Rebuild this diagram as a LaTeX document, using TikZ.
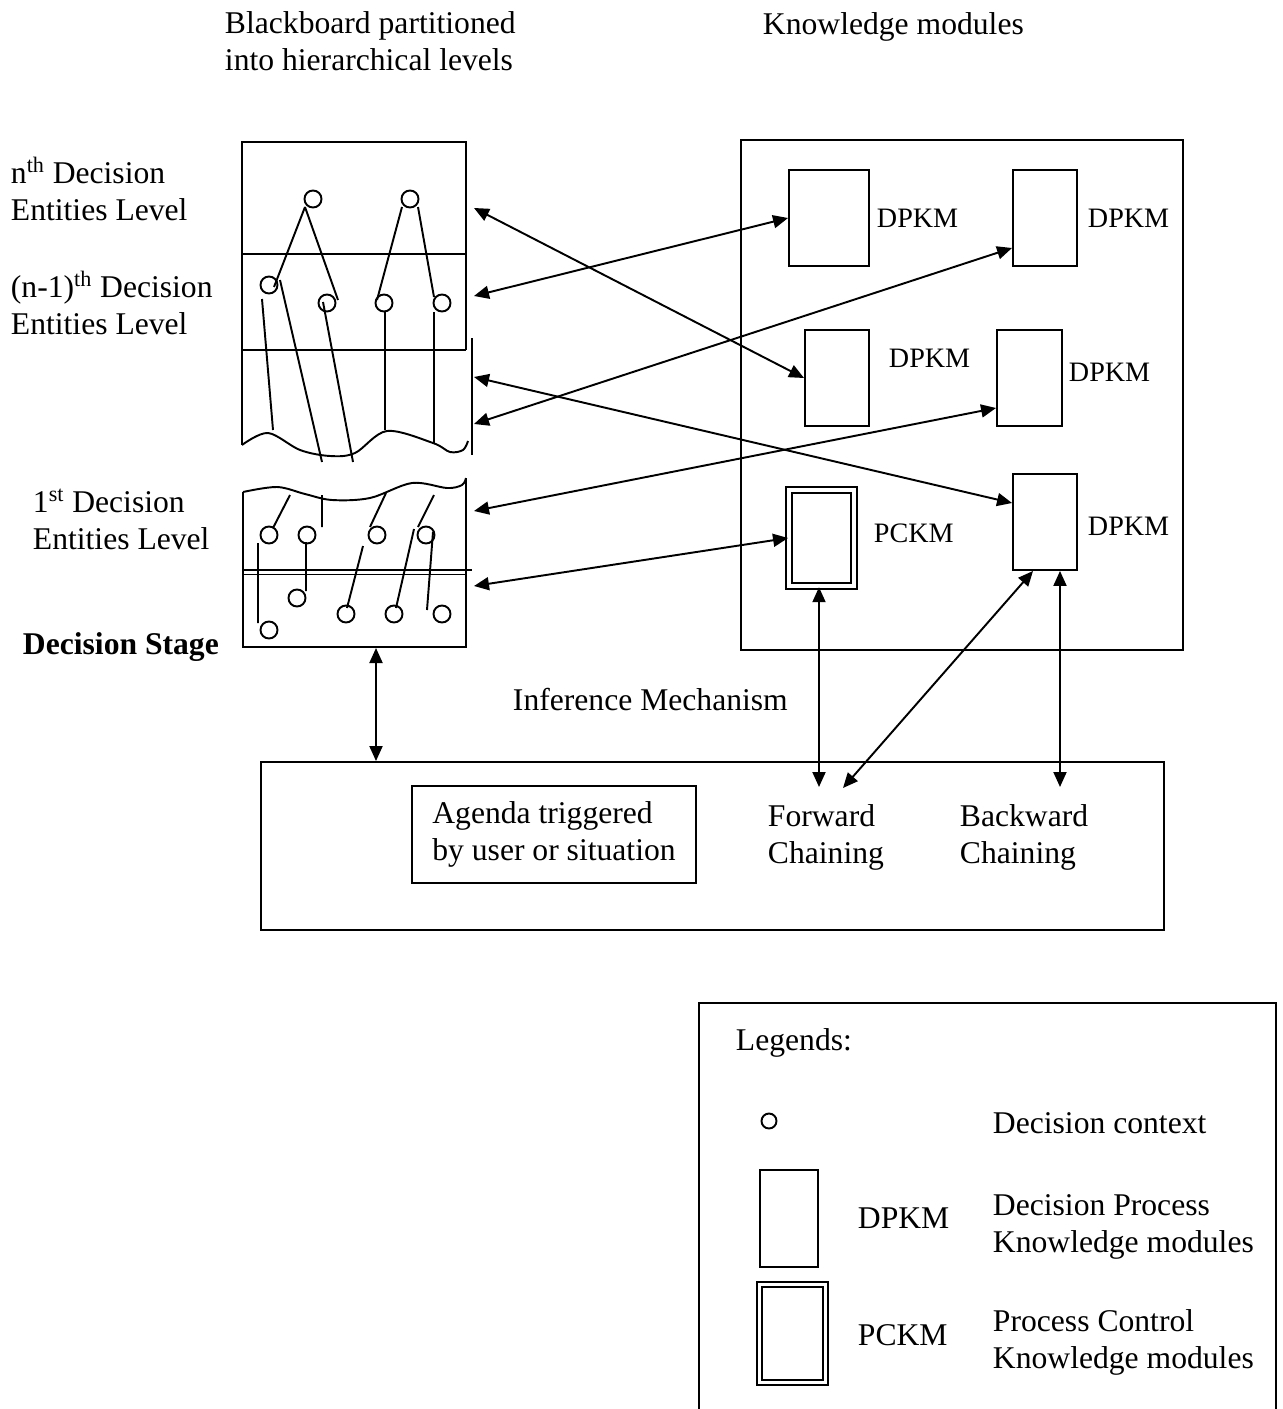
\documentclass[tikz,border=0pt]{standalone}
\usepackage{fontspec}
\setmainfont{Liberation Serif}
\usetikzlibrary{arrows.meta}
\tikzset{module/.style={ % Sets the properties for each knowledge module
draw,
inner sep=0pt,
minimum width=1.28cm,
minimum height=1.92cm},
pckm/.style={ % Control module: double border
module,
double,
double distance=2.2pt},
txt/.style={anchor=west, inner sep=0pt, align=left},
modlabel/.style={txt, font=\fontsize{16}{19}\selectfont},
every edge/.style={ % Sets the properties for each link
draw,
{Triangle[length=3mm,width=2.6mm]}-{Triangle[length=3mm,width=2.6mm]},
line width=1.1pt}}

\begin{document}
\begin{tikzpicture}[x=0.02cm, y=-0.02cm, line width=1.1pt, font=\fontsize{18}{21}\selectfont]
\useasboundingbox (0,0) rectangle (1282,1409);
% titles
\node[txt] (bbtitle) at (224,41) {Blackboard partitioned\\into hierarchical levels};
\node[txt] (kmtitle) at (762,27) {Knowledge modules};
\node[txt] (lvn) at (10,189) {n\textsuperscript{th} Decision\\Entities Level};
\node[txt] (lvm) at (10,303) {(n-1)\textsuperscript{th} Decision\\Entities Level};
\node[txt] (lv1) at (32,519) {1\textsuperscript{st} Decision\\Entities Level};
\node[txt] (stagetxt) at (22,647) {\textbf{Decision Stage}};
% blackboard, upper part
\draw (466,350) -- (466,142) -- (242,142) -- (242,445);
\draw (242,254) -- (466,254) (242,350) -- (466,350);
\draw plot[smooth, tension=0.55] coordinates {(242,445) (268,433) (300,450) (330,456) (355,453) (387,431) (433,443) (450,452) (463,450) (468,441)};
\draw (472,338) -- (472,455);
\foreach \p in {(313,199),(410,199),(269,285),(327,303),(384,303),(442,303)}
  \draw \p circle[radius=0.17cm];
\draw (305,207) -- (274,287) (305,207) -- (338,300)
      (402,207) -- (377,300) (418,207) -- (434,297)
      (262,299) -- (273,430) (280,280) -- (322,462)
      (323,302) -- (353,462) (385,312) -- (385,430)
      (434,312) -- (434,443);
% blackboard, lower part
\draw plot[smooth, tension=0.55] coordinates {(243,492) (277,487) (305,494) (332,500) (370,498) (412,483) (447,488) (462,485) (466,478)};
\draw (243,492) -- (243,647) -- (466,647) -- (466,478);
\draw (243,570) -- (472,570) (243,574.5) -- (466,574.5);
\foreach \p in {(269,535),(307,535),(377,535),(426,535),(297,598),(346,614),(394,614),(442,614),(269,630)}
  \draw \p circle[radius=0.17cm];
\draw (290,495) -- (273,528) (322,495) -- (322,527)
      (386,493) -- (370,527) (434,495) -- (418,527)
      (258,543) -- (258,623) (306,542) -- (306,591)
      (363,546) -- (347,608) (414,529) -- (396,608)
      (433,532) -- (427,610);
% knowledge modules
\draw (741,140) rectangle (1183,650);
\node[module, minimum width=1.6cm] (dp1) at (829,218) {};
\node[module] (dp2) at (1045,218) {};
\node[module] (dp3) at (837,378) {};
\node[module, minimum width=1.3cm] (dp4) at (1029.5,378) {};
\node[module] (dp5) at (1045,522) {};
\node[pckm, minimum width=1.3cm, minimum height=1.93cm] (pc) at (821.5,538) {};
\node[modlabel] (dp1l) at (876,218) {DPKM};
\node[modlabel] (dp2l) at (1087,218) {DPKM};
\node[modlabel] (dp3l) at (888,358) {DPKM};
\node[modlabel] (dp4l) at (1068,372) {DPKM};
\node[modlabel] (dp5l) at (1087,526) {DPKM};
\node[modlabel] (pcl) at (873,533) {PCKM};
% inference mechanism
\node[txt] (inftxt) at (512,700) {Inference Mechanism};
\node[draw, inner sep=0pt, minimum width=18.06cm, minimum height=3.36cm] (infer) at (712.5,846) {};
\node[draw, align=left, inner xsep=0.4cm, minimum height=1.94cm] (agenda) at (554,834.5) {Agenda triggered\\by user or situation};
\node[txt] (fwdtxt) at (767,837) {Forward\\Chaining};
\node[txt] (bwdtxt) at (959,837) {Backward\\Chaining};
% link ends
\coordinate (bbA) at (474,208);
\coordinate (bbB) at (474,296);
\coordinate (bbC) at (474,377);
\coordinate (bbD) at (474,424);
\coordinate (bbE) at (474,511);
\coordinate (bbF) at (474,586);
\coordinate (stage) at (376,648);
\coordinate (fwdA) at (819,787);
\coordinate (fwdB) at (843,788);
\coordinate (bwd) at (1060,787);
\draw (bbA) edge (dp3.west)
      (bbB) edge (dp1.west)
      (bbD) edge ([yshift=-0.6cm]dp2.west)
      (bbC) edge ([yshift=0.38cm]dp5.west)
      (bbE) edge ([yshift=-0.6cm]dp4.west)
      (bbF) edge (pc.west)
      (fwdA |- pc.south) edge (fwdA)
      ([xshift=-0.24cm]dp5.south) edge (fwdB)
      ([xshift=0.3cm]dp5.south) edge (bwd)
      (stage) edge (stage |- infer.north);
% legend
\draw (699,1420) -- (699,1003) -- (1276,1003) -- (1276,1420);
\node[txt] (legtxt) at (735,1043) {Legends:};
\draw (769,1121) circle[radius=0.15cm];
\node[txt] (ctxtxt) at (992,1123) {Decision context};
\node[module, minimum width=1.16cm, minimum height=1.94cm] (legdp) at (789,1218.5) {};
\node[txt] (legdpl) at (857,1218) {DPKM};
\node[txt] (legdpt) at (992,1227) {Decision Process\\Knowledge modules};
\node[pckm, minimum width=1.32cm, minimum height=1.96cm] (legpc) at (792.5,1333.5) {};
\node[txt] (legpcl) at (857,1335) {PCKM};
\node[txt] (legpct) at (992,1342) {Process Control\\Knowledge modules};
\end{tikzpicture}
\end{document}
